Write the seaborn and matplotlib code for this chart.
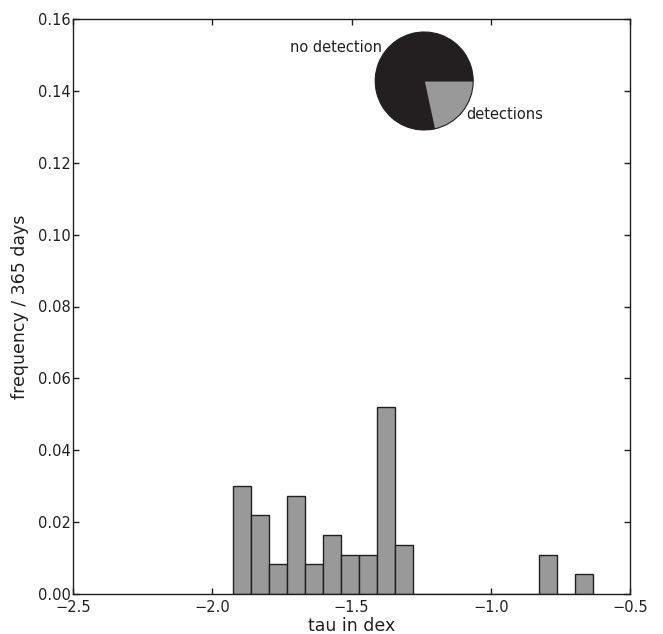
"""Histogram of tau with a detection pie inset."""

import matplotlib
matplotlib.use("Agg")
import matplotlib.pyplot as plt
import numpy as np
import pandas as pd
import seaborn as sns

# histogram: 20 equal bins between the smallest and largest tau (dex)
tau_min = -1.927
tau_max = -0.633
day_counts = [11, 8, 3, 10, 3, 6, 4, 4, 19, 5, 0, 0, 0, 0, 0, 0, 0, 4, 0, 2]
days_per_year = 365

# pie: days with and without detection
pie_labels = ["no detection", "detections"]
pie_days = [286, 79]

x_ticks = [-2.5, -2.0, -1.5, -1.0, -0.5]
y_ticks = [0.00, 0.02, 0.04, 0.06, 0.08, 0.10, 0.12, 0.14, 0.16]

sns.set_style("ticks")
plt.rcParams["font.family"] = ["DejaVu Sans"]

fig = plt.figure(figsize=(6.63, 6.34), dpi=100)
ax = fig.add_axes([73.3 / 663, 1 - 594 / 634, (630 - 73.3) / 663, (594 - 19) / 634])

edges = np.linspace(tau_min, tau_max, len(day_counts) + 1)
hist_df = pd.DataFrame({
    "tau": (edges[:-1] + edges[1:]) / 2,
    "freq": np.array(day_counts) / days_per_year,
})
sns.histplot(data=hist_df, x="tau", weights="freq", bins=list(edges),
             color="#999999", alpha=1, edgecolor="#231f20", linewidth=1.0, ax=ax)

ax.set_xlim(-2.5, -0.5)
ax.set_ylim(0, 0.16)
ax.set_xticks(x_ticks)
ax.set_yticks(y_ticks)
ax.set_yticklabels([f"{v:.2f}" for v in y_ticks])
ax.tick_params(direction="in", length=4, width=1, top=True, right=True,
               labelsize=10.5, colors="#231f20")
ax.tick_params(axis="y", pad=2)
ax.tick_params(axis="x", pad=4)
for sp in ax.spines.values():
    sp.set_color("#231f20")
    sp.set_linewidth(1.0)
ax.set_xlabel("tau in dex", fontsize=12.5, labelpad=2, color="#231f20")
ax.set_ylabel("frequency / 365 days", fontsize=12.5, labelpad=6, color="#231f20")

# pie inset
side = 98 * 1.25
pax = fig.add_axes([(424.2 - side / 2) / 663, (634 - 81 - side / 2) / 634,
                    side / 663, side / 634])
pax.pie(pie_days, labels=pie_labels, colors=["#231f20", "#999999"],
        wedgeprops={"edgecolor": "#231f20", "linewidth": 0.8},
        textprops={"fontsize": 10.5, "color": "#231f20"})

fig.savefig("out.png", dpi=100)
